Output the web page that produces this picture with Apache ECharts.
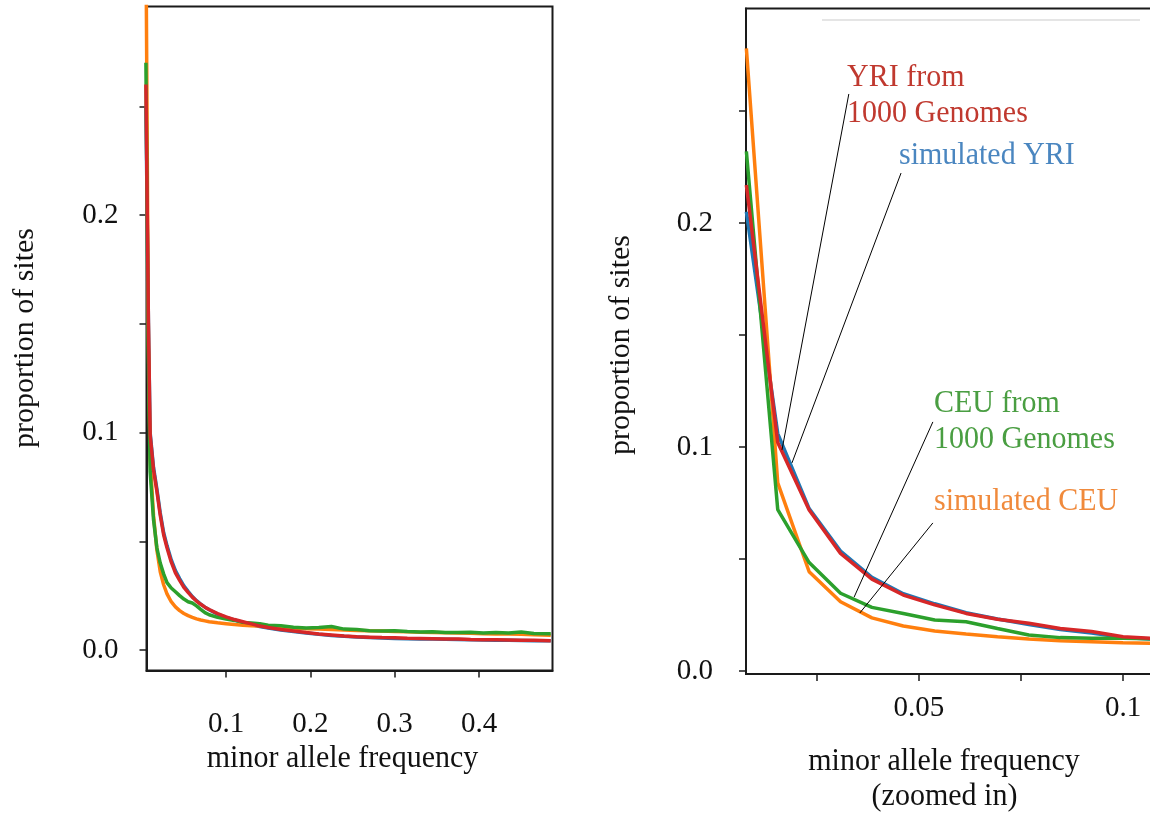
<!DOCTYPE html>
<html><head><meta charset="utf-8">
<script src="https://cdn.jsdelivr.net/npm/echarts@6/dist/echarts.min.js"></script>
<style>html,body{margin:0;padding:0;background:#fff}#c{width:1150px;height:816px}</style>
</head><body><div id="c"></div>
<script>
// ---------- full-range panel ----------
const leftFreq = [0.005,0.008,0.010,0.014,0.018,0.022,0.026,0.030,0.035,0.040,0.045,0.050,0.055,0.060,0.065,0.070,0.075,0.080,0.090,0.100,0.110,0.120,0.130,0.140,0.150,0.165,0.180,0.195,0.210,0.225,0.240,0.255,0.270,0.285,0.300,0.315,0.330,0.345,0.360,0.375,0.390,0.405,0.420,0.435,0.450,0.465,0.485];
const leftSimYRI  = [0.25,0.15,0.100,0.084,0.074,0.063,0.054,0.048,0.0415,0.0365,0.0328,0.0295,0.027,0.0246,0.0227,0.0211,0.0197,0.0185,0.0165,0.0150,0.0138,0.0127,0.0117,0.0108,0.0101,0.0092,0.0085,0.0078,0.0072,0.0067,0.0063,0.0060,0.0057,0.0055,0.0053,0.0052,0.0051,0.0050,0.0049,0.0048,0.0047,0.0046,0.0045,0.0045,0.0044,0.0043,0.0042];
const leftSimCEU  = [0.33,0.14,0.088,0.062,0.046,0.036,0.030,0.0258,0.0222,0.0198,0.0181,0.0168,0.0158,0.0150,0.0143,0.0138,0.0134,0.0130,0.0125,0.0121,0.0117,0.0114,0.0112,0.0110,0.0107,0.0104,0.0101,0.0098,0.0096,0.0094,0.0092,0.0090,0.0088,0.0087,0.0085,0.0084,0.0082,0.0081,0.0079,0.0078,0.0077,0.0075,0.0074,0.0073,0.0072,0.0070,0.0068];
const leftDataCEU = [0.27,0.13,0.082,0.060,0.047,0.040,0.035,0.031,0.0285,0.0268,0.025,0.0234,0.0222,0.0216,0.0203,0.0187,0.0172,0.0162,0.0150,0.0142,0.0136,0.0127,0.0124,0.0121,0.0114,0.0111,0.0105,0.0101,0.0103,0.0108,0.0096,0.0094,0.0089,0.0087,0.0089,0.0085,0.0083,0.0084,0.0081,0.0080,0.0082,0.0078,0.0081,0.0078,0.0083,0.0076,0.0075];
const leftDataYRI = [0.26,0.15,0.099,0.083,0.073,0.062,0.053,0.047,0.0405,0.0355,0.032,0.0288,0.0265,0.0243,0.0225,0.021,0.0197,0.0186,0.0167,0.0152,0.0140,0.0130,0.0120,0.0110,0.0103,0.0094,0.0087,0.0080,0.0074,0.0069,0.0064,0.0061,0.0059,0.0057,0.0056,0.0054,0.0053,0.0052,0.0050,0.0050,0.0048,0.0047,0.0047,0.0046,0.0045,0.0045,0.0043];

// ---------- zoomed panel ----------
const zoomFreq    = [0.00769,0.01538,0.02308,0.03077,0.03846,0.04615,0.05385,0.06154,0.06923,0.07692,0.08462,0.09231,0.1,0.10769];
const zoomSimYRI  = [0.205,0.106,0.0725,0.0535,0.0418,0.0345,0.030,0.026,0.0232,0.0208,0.0185,0.0170,0.0150,0.0142];
const zoomSimCEU  = [0.278,0.084,0.0443,0.0309,0.0237,0.0201,0.0179,0.0165,0.0153,0.0143,0.0135,0.0131,0.0126,0.0124];
const zoomDataCEU = [0.232,0.072,0.0484,0.0347,0.0284,0.0257,0.0228,0.022,0.019,0.0161,0.0149,0.0146,0.0146,0.0143];
const zoomDataYRI = [0.217,0.102,0.0719,0.0525,0.041,0.0339,0.0295,0.0257,0.0231,0.0213,0.019,0.0176,0.0153,0.0145];

// ---------- ticks ----------
const yTicks = [0,0.05,0.1,0.15,0.2,0.25];
const yTickLabels = [0,0.1,0.2];
const leftXTicks = [0.1,0.2,0.3,0.4];
const zoomXTicks = [0.025,0.05,0.075,0.1];
const zoomXTickLabels = [0.05,0.1];

// ---------- annotation anchors (data coords in zoomed panel) ----------
const pointerYRIData = [[0.0328,0.2576],[0.01642,0.0987]];
const pointerYRISim  = [[0.0456,0.2223],[0.01887,0.0929]];
const pointerCEUData = [[0.0534,0.1112],[0.0341,0.0330]];
const pointerCEUSim  = [[0.0534,0.0661],[0.0355,0.0259]];

const C = {blue:'#1f77b4', orange:'#ff7f0e', green:'#2ca02c', red:'#d62728'};
const FONT = 'Liberation Serif';
const ink = '#1a1a1a';

function zip(xs, ys){ return xs.map((x,i)=>[x, ys[i]]); }

function xAxisCfg(idx, min, max, ticks, labels, margin){
  return {type:'value', gridIndex:idx, min, max,
    axisLine:{show:true, onZero:false, lineStyle:{color:ink, width:2}},
    axisTick:{show:true, length:7, customValues:ticks, lineStyle:{color:ink, width:1.5}},
    axisLabel:{show:true, customValues:labels, margin, fontFamily:FONT, fontSize:29, color:'#111',
      formatter:v=>String(+v.toFixed(3))},
    splitLine:{show:false}};
}
function yAxisCfg(idx, min, max, margin){
  return {type:'value', gridIndex:idx, min, max,
    axisLine:{show:true, onZero:false, lineStyle:{color:ink, width:2}},
    axisTick:{show:true, length:7, customValues:yTicks, lineStyle:{color:ink, width:1.5}},
    axisLabel:{show:true, customValues:yTickLabels, margin, fontFamily:FONT, fontSize:29, color:'#111',
      formatter:v=>v.toFixed(1)},
    splitLine:{show:false}};
}
function lineSeries(idx, xs, ys, color, extra){
  return Object.assign({type:'line', xAxisIndex:idx, yAxisIndex:idx, data:zip(xs,ys),
    showSymbol:false, symbol:'none', clip:true, lineStyle:{color, width:3.5}, itemStyle:{color},
    emphasis:{disabled:true}, silent:true}, extra||{});
}
function pointer(seg){ return [{coord:seg[0]},{coord:seg[1]}]; }

const chart = echarts.init(document.getElementById('c'), null, {renderer:'canvas'});
const F30 = `30px "${FONT}"`;
function label(text, x, y, color, align){
  return {type:'text', x, y, scaleY:1.06, originY:0,
    style:{text, fill:color, font:F30, textAlign:align||'left', textVerticalAlign:'middle'}, silent:true};
}

chart.setOption({
  animation:false,
  backgroundColor:'#fff',
  grid:[
    {left:146.5, top:6.5, width:406, height:664, show:true, borderColor:ink, borderWidth:2, containLabel:false, outerBoundsMode:'none'},
    {left:746, top:8.5, width:440, height:665.5, show:true, borderColor:ink, borderWidth:2, containLabel:false, outerBoundsMode:'none'}
  ],
  xAxis:[
    xAxisCfg(0, 0.0057, 0.4871, leftXTicks, leftXTicks, 39),
    xAxisCfg(1, 0.0076, 0.11544, zoomXTicks, zoomXTickLabels, 20)
  ],
  yAxis:[
    yAxisCfg(0, -0.00943, 0.2959, 28),
    yAxisCfg(1, -0.00134, 0.29576, 33)
  ],
  series:[
    lineSeries(0, leftFreq, leftSimYRI, C.blue),
    lineSeries(0, leftFreq, leftSimCEU, C.orange),
    lineSeries(0, leftFreq, leftDataCEU, C.green),
    lineSeries(0, leftFreq, leftDataYRI, C.red),
    lineSeries(1, zoomFreq, zoomSimYRI, C.blue),
    lineSeries(1, zoomFreq, zoomSimCEU, C.orange),
    lineSeries(1, zoomFreq, zoomDataCEU, C.green),
    lineSeries(1, zoomFreq, zoomDataYRI, C.red, {
      markLine:{silent:true, symbol:['none','none'], animation:false, label:{show:false},
        lineStyle:{color:'#000', width:1, type:'solid'}, emphasis:{disabled:true},
        data:[pointer(pointerYRIData), pointer(pointerYRISim), pointer(pointerCEUData), pointer(pointerCEUSim)]}
    })
  ],
  graphic:[
    {type:'line', shape:{x1:822, y1:20, x2:1140, y2:20}, style:{stroke:'#dddddd', lineWidth:1.5}, silent:true},
    label('minor allele frequency', 342.5, 759, '#111', 'center'),
    label('minor allele frequency', 944, 762, '#111', 'center'),
    label('(zoomed in)', 944.5, 797, '#111', 'center'),
    {type:'text', x:25, y:338, rotation:Math.PI/2, style:{text:'proportion of sites', fill:'#111', font:F30, textAlign:'center', textVerticalAlign:'middle'}, silent:true},
    {type:'text', x:621, y:345, rotation:Math.PI/2, style:{text:'proportion of sites', fill:'#111', font:F30, textAlign:'center', textVerticalAlign:'middle'}, silent:true},
    label('YRI from', 847, 78, '#c0392f'),
    label('1000 Genomes', 847, 114, '#c0392f'),
    label('simulated YRI', 899, 156, '#4a86c0'),
    label('CEU from', 934, 404, '#4a9e42'),
    label('1000 Genomes', 934, 440, '#4a9e42'),
    label('simulated CEU', 934, 502, '#f08a3c')
  ]
});
</script></body></html>
